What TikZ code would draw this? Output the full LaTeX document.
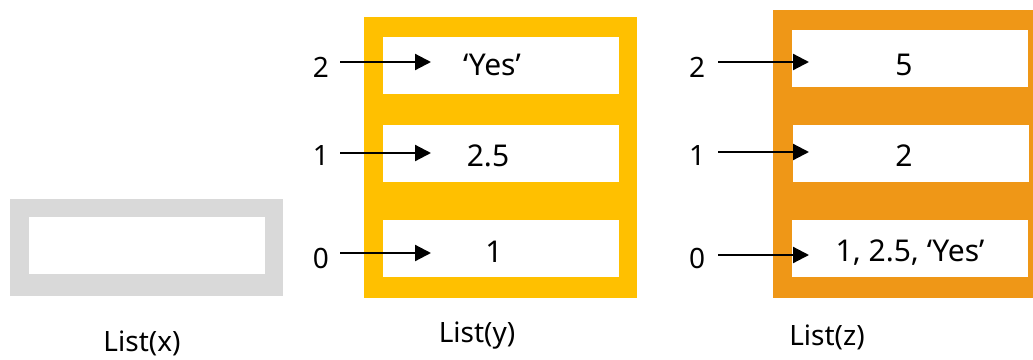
\documentclass[tikz,border=0pt]{standalone}
\usepackage{fontspec}
\setmainfont{Noto Sans}
\usetikzlibrary{arrows.meta}
\definecolor{boxgray}{HTML}{D9D9D9}
\definecolor{boxyellow}{HTML}{FFC000}
\definecolor{boxorange}{HTML}{EF9717}
\tikzset{
  val/.style={inner sep=0pt, font=\fontsize{30}{34}\selectfont},
  idx/.style={inner sep=0pt, font=\fontsize{28}{32}\selectfont},
  listcap/.style={inner sep=0pt, font=\fontsize{28}{32}\selectfont},
  ptr/.style={line width=2.2pt, -{Triangle[length=16pt,width=16pt]}}
}
\begin{document}
\begin{tikzpicture}[x=1pt,y=-1pt]
\useasboundingbox (0,0) rectangle (1033,359);
% empty list x
\fill[boxgray] (10,199) rectangle (283,296);
\fill[white] (29,217) rectangle (265,274);
\node[listcap] (capx) at (142,343) {List(x)};
% list y
\fill[boxyellow] (364,17) rectangle (637,298);
\fill[white] (383,37) rectangle (619,94);
\fill[white] (383,125) rectangle (619,182);
\fill[white] (383,220) rectangle (619,277);
\node[val] (y2) at (492,65) {‘Yes’};
\node[val] (y1) at (488,156) {2.5};
\node[val] (y0) at (494,252) {1};
\node[idx] (iy2) at (321,67) {2};
\node[idx] (iy1) at (321,156) {1};
\node[idx] (iy0) at (321,258) {0};
\coordinate (ty2) at (431,62);
\coordinate (ty1) at (431,153);
\coordinate (ty0) at (431,253);
\draw[ptr] (340,0 |- ty2) -- (ty2);
\draw[ptr] (340,0 |- ty1) -- (ty1);
\draw[ptr] (340,0 |- ty0) -- (ty0);
\node[listcap] (capy) at (477,336) {List(y)};
% list z
\fill[boxorange] (773,10) rectangle (1033,298);
\fill[white] (792,30) rectangle (1028,87);
\fill[white] (793,125) rectangle (1029,182);
\fill[white] (792,220) rectangle (1028,277);
\node[val] (z2) at (904,65) {5};
\node[val] (z1) at (904,156) {2};
\node[val] (z0) at (910,253) {1, 2.5, ‘Yes’};
\node[idx] (iz2) at (697,67) {2};
\node[idx] (iz1) at (697,156) {1};
\node[idx] (iz0) at (697,258) {0};
\coordinate (tz2) at (809,62);
\coordinate (tz1) at (809,152);
\coordinate (tz0) at (809,255);
\draw[ptr] (718,0 |- tz2) -- (tz2);
\draw[ptr] (718,0 |- tz1) -- (tz1);
\draw[ptr] (718,0 |- tz0) -- (tz0);
\node[listcap] (capz) at (827,337) {List(z)};
\end{tikzpicture}
\end{document}
